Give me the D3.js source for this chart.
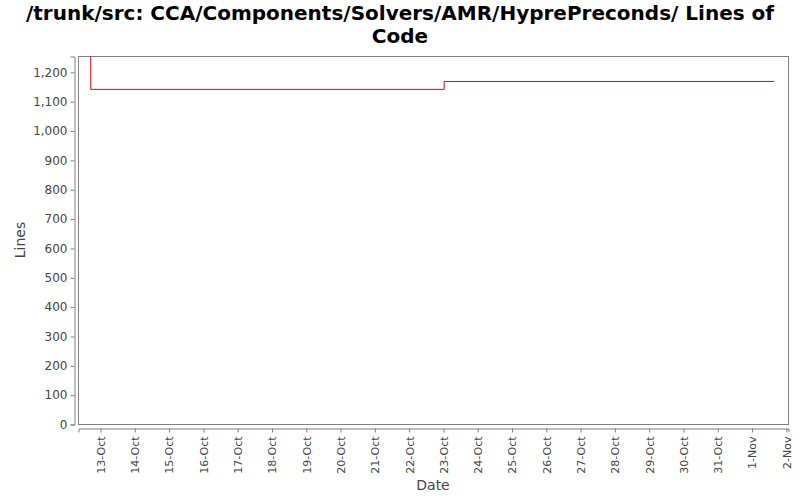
<!DOCTYPE html>
<html>
<head>
<meta charset="utf-8">
<script src="https://cdn.jsdelivr.net/npm/d3@7"></script>
<style>
  body { margin: 0; background: #fff; }
  text { font-family: "DejaVu Sans", sans-serif; }
</style>
</head>
<body>
<svg id="chart" width="800" height="500"></svg>
<script>
// data
const titleLines = ["/trunk/src: CCA/Components/Solvers/AMR/HyprePreconds/ Lines of", "Code"];
const pointDates = ["2007-10-12T17:00", "2007-10-12T17:10", "2007-10-23T00:30", "2007-11-01T15:30"];
const pointLines = [1254, 1142, 1169, 1169];
const yTicks = [0, 100, 200, 300, 400, 500, 600, 700, 800, 900, 1000, 1100, 1200];
const xTickDates = ["2007-10-13", "2007-10-14", "2007-10-15", "2007-10-16", "2007-10-17", "2007-10-18",
  "2007-10-19", "2007-10-20", "2007-10-21", "2007-10-22", "2007-10-23", "2007-10-24", "2007-10-25",
  "2007-10-26", "2007-10-27", "2007-10-28", "2007-10-29", "2007-10-30", "2007-10-31", "2007-11-01", "2007-11-02"];

const parse = d3.timeParse("%Y-%m-%dT%H:%M");
const parseDay = d3.timeParse("%Y-%m-%d");
const data = pointDates.map((d, i) => ({ date: parse(d), lines: pointLines[i] }));
const ticks = xTickDates.map(parseDay);

const svg = d3.select('#chart');
const plot = { left: 78, right: 788, top: 56, bottom: 424 };

const xScale = d3.scaleTime()
    .domain([parse("2007-10-12T08:35"), parse("2007-11-02T01:30")])
    .range([plot.left, plot.right]);
const yScale = d3.scaleLinear().domain([0, 1254]).range([plot.bottom, plot.top]);

// title
svg.append('g').selectAll('text')
    .data(titleLines)
    .enter()
    .append('text')
    .attr('x', 400)
    .attr('y', (d, i) => 20 + i * 23)
    .attr('text-anchor', 'middle')
    .style('font-size', '20px')
    .style('font-weight', 'bold')
    .text(d => d);

// plot box
svg.append('rect')
    .attr('x', plot.left + 0.5).attr('y', plot.top + 0.5)
    .attr('width', plot.right - plot.left).attr('height', plot.bottom - plot.top)
    .attr('fill', '#fff').attr('stroke', '#808080');

// y axis
const yAxis = d3.axisLeft(yScale).tickValues(yTicks).tickSize(4).tickPadding(3)
    .tickFormat(d3.format(','));
const gy = svg.append('g')
    .attr('transform', 'translate(74.5,0.5)')
    .call(yAxis);

// x axis
const xAxis = d3.axisBottom(xScale).tickValues(ticks).tickSize(4).tickPadding(3)
    .tickFormat(d3.timeFormat('%-d-%b'));
const gx = svg.append('g')
    .attr('transform', 'translate(0.5,428.5)')
    .call(xAxis);

[gx, gy].forEach(g => {
  g.select('.domain').attr('stroke', '#808080');
  g.selectAll('.tick line').attr('stroke', '#808080');
  g.selectAll('.tick text').attr('fill', '#444')
      .style('font-family', '"DejaVu Sans", sans-serif');
});
gy.selectAll('.tick text').style('font-size', '12px');
gx.selectAll('.tick text')
    .style('font-size', '11px')
    .attr('transform', 'rotate(-90)')
    .attr('text-anchor', 'end')
    .attr('x', -8)
    .attr('y', 0)
    .attr('dy', '0.35em');

// axis labels
svg.append('text')
    .attr('x', 433).attr('y', 490)
    .attr('text-anchor', 'middle')
    .attr('fill', '#444')
    .style('font-size', '14px')
    .text('Date');
svg.append('text')
    .attr('transform', 'translate(25,' + ((plot.top + plot.bottom) / 2) + ') rotate(-90)')
    .attr('text-anchor', 'middle')
    .attr('fill', '#444')
    .style('font-size', '14px')
    .text('Lines');

// step line
const line = d3.line()
    .x(d => xScale(d.date))
    .y(d => yScale(d.lines))
    .curve(d3.curveStepAfter);
svg.append('path')
    .datum(data)
    .attr('d', line)
    .attr('transform', 'translate(0.5,0.5)')
    .attr('fill', 'none')
    .attr('stroke', '#e00000')
    .attr('stroke-width', 1);
</script>
</body>
</html>
